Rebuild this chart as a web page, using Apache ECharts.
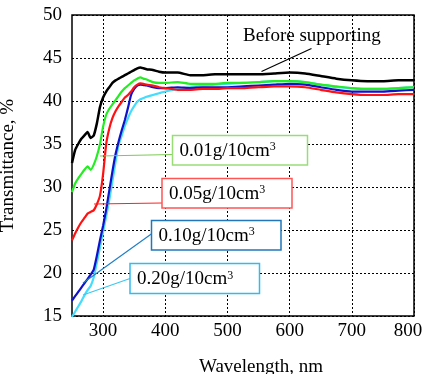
<!DOCTYPE html>
<html>
<head>
<meta charset="UTF-8">
<title></title>
<script src="https://cdn.jsdelivr.net/npm/echarts@6/dist/echarts.min.js"></script>
</head>
<body style="margin:0">
<div id="main" style="width:425px;height:374px;"></div>
<script>
var wavelengths = [250,255,260,265,270,275,280,285,290,295,300,305,310,315,320,325,330,335,340,345,350,355,360,365,370,380,390,400,420,440,460,480,500,525,550,575,600,625,650,675,700,725,750,775,800];

var beforeSupporting = [32.8,34.3,35.0,35.6,36.0,36.4,35.7,36.0,37.4,39.3,40.4,41.1,41.6,42.1,42.4,42.6,42.8,43.0,43.2,43.4,43.6,43.8,43.9,43.8,43.7,43.6,43.4,43.3,43.3,43.0,43.0,43.1,43.1,43.1,43.1,43.2,43.3,43.2,42.9,42.6,42.4,42.3,42.3,42.4,42.4];
var g001 = [29.4,30.4,31.0,31.5,32.0,32.4,32.0,32.6,33.6,35.0,37.0,38.4,39.1,39.6,40.1,40.6,41.1,41.5,41.8,42.1,42.4,42.6,42.75,42.6,42.5,42.2,42.1,42.1,42.2,42.0,42.0,42.0,42.1,42.1,42.2,42.3,42.3,42.2,41.9,41.7,41.5,41.4,41.4,41.5,41.6];
var g005 = [23.8,24.6,25.3,25.9,26.4,26.9,27.1,27.3,28.0,29.0,31.5,35.0,36.8,38.0,38.8,39.4,39.9,40.4,40.7,41.1,41.6,41.9,42.05,42.0,41.9,41.8,41.6,41.5,41.3,41.3,41.4,41.4,41.5,41.5,41.6,41.7,41.7,41.6,41.3,41.0,40.8,40.7,40.7,40.8,40.8];
var g010 = [16.8,17.3,17.8,18.3,18.8,19.3,19.8,20.4,22.0,23.8,25.5,27.4,29.6,31.8,33.8,35.3,36.6,37.8,39.2,40.7,41.4,41.8,41.9,41.85,41.8,41.6,41.5,41.5,41.6,41.5,41.6,41.6,41.6,41.7,41.8,41.9,42.0,41.9,41.6,41.3,41.1,41.1,41.1,41.2,41.3];
var g020 = [14.9,15.5,16.1,16.7,17.4,18.0,18.5,19.5,21.2,23.0,24.8,26.6,28.5,30.7,32.9,34.9,36.0,37.1,38.0,38.8,39.4,39.9,40.2,40.35,40.5,40.7,40.9,41.1,41.4,41.6,41.8,41.9,42.0,42.1,42.2,42.3,42.3,42.2,41.9,41.6,41.5,41.4,41.4,41.5,41.6];

var seriesNames = ['Before supporting', '0.01g/10cm3', '0.05g/10cm3', '0.10g/10cm3', '0.20g/10cm3'];
var seriesValues = [beforeSupporting, g001, g005, g010, g020];
var seriesColors = ['#000000', '#22ee22', '#ff1111', '#1111cc', '#44ddff'];

function pairs(vals) {
    return wavelengths.map(function (w, i) { return [w, vals[i]]; });
}

var font = 'Liberation Serif';
var myChart = echarts.init(document.getElementById('main'));

var series = seriesValues.map(function (vals, i) {
    return {
        name: seriesNames[i],
        type: 'line',
        data: pairs(vals),
        showSymbol: false,
        smooth: 0.15,
        z: 10 - i,
        lineStyle: { color: seriesColors[i], width: i === 0 ? 2.5 : 2.2 },
        animation: false
    };
});

// label box helper
function labelBox(x, y, w, h, color, txt) {
    return [
        { type: 'rect', shape: { x: x, y: y, width: w, height: h },
          style: { fill: '#fff', stroke: color, lineWidth: 1.5 }, z: 100 },
        { type: 'text', x: x + 7, y: y + h / 2 + 1, z: 101,
          style: { text: txt + '{s|3}', fill: '#000', font: '19px "' + font + '"',
                   verticalAlign: 'middle',
                   rich: { s: { fontSize: 12, fontFamily: font, verticalAlign: 'top', padding: [0, 0, 8, 0] } } } }
    ];
}
function leader(x1, y1, x2, y2, color) {
    return { type: 'line', shape: { x1: x1, y1: y1, x2: x2, y2: y2 },
             style: { stroke: color, lineWidth: 1.2 }, z: 99 };
}

var graphics = [].concat(
    leader(100, 156, 173, 154.5, '#7ccc50'),
    labelBox(172.5, 135.5, 135, 29.5, '#99dd77', '0.01g/10cm'),
    leader(94, 204, 162, 203, '#ff2222'),
    labelBox(162, 178.5, 130, 29.5, '#ff5555', '0.05g/10cm'),
    leader(83, 283, 152, 233.5, '#1f7fc8'),
    labelBox(151.5, 220.5, 129.5, 29.5, '#2277bb', '0.10g/10cm'),
    leader(83, 295, 130, 278.5, '#3cc8f0'),
    labelBox(130, 263.5, 129.5, 30, '#33bbee', '0.20g/10cm'),
    leader(311.5, 48.5, 261.5, 71.5, '#000'),
    [{ type: 'text', x: 243, y: 36, z: 101,
       style: { text: 'Before supporting', fill: '#000', font: '19px "' + font + '"', verticalAlign: 'middle' } },
     { type: 'text', x: 261, y: 367, z: 101,
       style: { text: 'Wavelength, nm', fill: '#000', font: '19px "' + font + '"', align: 'center', verticalAlign: 'middle' } }]
);

var option = {
    backgroundColor: '#fff',
    animation: false,
    grid: { left: 72, right: 11, top: 15, bottom: 58, containLabel: false, outerBoundsMode: 'none',
            show: true, borderColor: '#000', borderWidth: 1.5, backgroundColor: 'transparent' },
    xAxis: {
        type: 'value', min: 250, max: 800, interval: 50,
        axisLine: { show: false },
        axisTick: { show: false },
        axisLabel: { color: '#000', fontFamily: font, fontSize: 19, margin: 6,
                     rich: { last: { fontFamily: font, fontSize: 19, color: '#000', padding: [0, 12, 0, 0] } },
                     formatter: function (v) {
                         if (v % 100 !== 0) return '';
                         return v === 800 ? '{last|' + v + '}' : String(v);
                     } },
        splitLine: { show: true, lineStyle: { color: ['rgba(0,0,0,0)', '#000'], type: [2, 2], width: 1 } }
    },
    yAxis: {
        type: 'value', min: 15, max: 50, interval: 5,
        name: 'Transmittance, %', nameLocation: 'middle', nameGap: 54,
        nameTextStyle: { color: '#000', fontFamily: font, fontSize: 19 },
        axisLine: { show: false },
        axisTick: { show: false },
        axisLabel: { color: '#000', fontFamily: font, fontSize: 19, margin: 10 },
        splitLine: { show: true, lineStyle: { color: '#000', type: [2, 2], width: 1 } }
    },
    series: series,
    graphic: graphics
};
myChart.setOption(option);
</script>
</body>
</html>
